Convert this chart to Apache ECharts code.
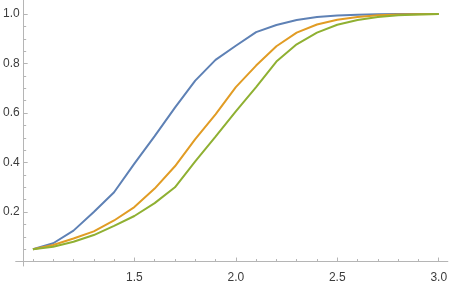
<!DOCTYPE html>
<html>
<head>
<meta charset="utf-8">
<script src="https://cdn.jsdelivr.net/npm/echarts@6/dist/echarts.min.js"></script>
<style>html,body{margin:0;padding:0;background:#fff}#c{width:450px;height:284px}</style>
</head>
<body>
<div id="c"></div>
<script>
var xs = [1.0,1.1,1.2,1.3,1.4,1.5,1.6,1.7,1.8,1.9,2.0,2.1,2.2,2.3,2.4,2.5,2.6,2.7,2.8,2.9,3.0];
var blueVals = [0.050,0.074,0.125,0.200,0.280,0.396,0.507,0.622,0.731,0.815,0.872,0.927,0.956,0.976,0.988,0.994,0.997,0.999,1.0,1.0,1.0];
var orangeVals = [0.050,0.067,0.093,0.122,0.166,0.220,0.295,0.385,0.495,0.595,0.705,0.792,0.870,0.925,0.958,0.977,0.988,0.995,0.998,0.999,1.0];
var greenVals = [0.050,0.060,0.080,0.107,0.144,0.184,0.236,0.300,0.405,0.505,0.607,0.705,0.808,0.878,0.925,0.957,0.976,0.988,0.995,0.998,1.0];
var xMajor = [1.5,2.0,2.5,3.0];
var xMinor = [1.0,1.1,1.2,1.3,1.4,1.6,1.7,1.8,1.9,2.1,2.2,2.3,2.4,2.6,2.7,2.8,2.9];
var yMajor = [0.2,0.4,0.6,0.8,1.0];
var yMinor = [0.05,0.1,0.15,0.25,0.3,0.35,0.45,0.5,0.55,0.65,0.7,0.75,0.85,0.9,0.95];

function pairs(v){ return xs.map(function(x,i){ return [x, v[i]]; }); }

var axisColor = '#b5b5b5';
var labelStyle = {color:'#3c3c3c', fontSize:12, fontFamily:'Liberation Sans, Arial, sans-serif'};
var chart = echarts.init(document.getElementById('c'), null, {renderer:'canvas'});
var xMin = 0.915, xMax = 3.045, yMin = -0.018, yMax = 1.057;
chart.setOption({
  animation:false,
  grid:{left:13, right:1, top:0, bottom:14, containLabel:false},
  xAxis:[
    {type:'value', min:xMin, max:xMax, position:'bottom',
     axisLine:{show:true, onZero:true, lineStyle:{color:axisColor, width:1}},
     axisTick:{show:true, inside:true, length:4, customValues:xMajor, lineStyle:{color:axisColor}},
     axisLabel:{show:true, customValues:xMajor, margin:6, formatter:function(v){return v.toFixed(1);}, color:labelStyle.color, fontSize:12, fontFamily:labelStyle.fontFamily},
     splitLine:{show:false}},
    {type:'value', min:xMin, max:xMax, position:'bottom',
     axisLine:{show:false, onZero:true},
     axisTick:{show:true, inside:true, length:2.5, customValues:xMinor, lineStyle:{color:axisColor}},
     axisLabel:{show:false}, splitLine:{show:false}}
  ],
  yAxis:[
    {type:'value', min:yMin, max:yMax, position:'left', offset:-8,
     axisLine:{show:true, onZero:false, lineStyle:{color:axisColor, width:1}},
     axisTick:{show:true, inside:true, length:4, customValues:yMajor, lineStyle:{color:axisColor}},
     axisLabel:{show:true, customValues:yMajor, margin:4, formatter:function(v){return v.toFixed(1);}, color:labelStyle.color, fontSize:12, fontFamily:labelStyle.fontFamily},
     splitLine:{show:false}},
    {type:'value', min:yMin, max:yMax, position:'left', offset:-8,
     axisLine:{show:false, onZero:false},
     axisTick:{show:true, inside:true, length:2.5, customValues:yMinor, lineStyle:{color:axisColor}},
     axisLabel:{show:false}, splitLine:{show:false}}
  ],
  series:[
    {type:'line', data:pairs(blueVals), showSymbol:false, symbol:'none', lineStyle:{color:'#5E81B5', width:2}, itemStyle:{color:'#5E81B5'}},
    {type:'line', data:pairs(orangeVals), showSymbol:false, symbol:'none', lineStyle:{color:'#E19C24', width:2}, itemStyle:{color:'#E19C24'}},
    {type:'line', data:pairs(greenVals), showSymbol:false, symbol:'none', lineStyle:{color:'#8FB032', width:2}, itemStyle:{color:'#8FB032'}}
  ]
});
</script>
</body>
</html>
